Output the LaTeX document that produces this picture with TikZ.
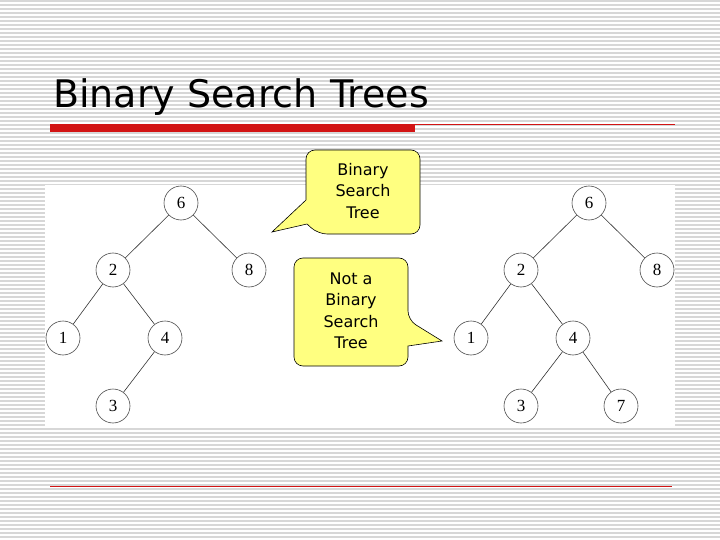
\documentclass[tikz,border=0pt]{standalone}
\usepackage{fontspec}
\setmainfont{Liberation Serif}
\newfontfamily\titlefont{DejaVu Sans}
\newfontfamily\callfont{DejaVu Sans}
\definecolor{stripe}{RGB}{215,215,215}
\definecolor{redbar}{RGB}{210,20,20}
\definecolor{callyel}{RGB}{255,255,128}
\begin{document}
\begin{tikzpicture}[x=1pt,y=-1pt,
  tn/.style={circle,draw=black!70,line width=0.6pt,fill=white,minimum size=34pt,inner sep=0pt,font=\fontsize{17}{17}\selectfont},
  ed/.style={line width=0.6pt,black!80},
  call/.style={fill=callyel,draw=black,line width=0.6pt,rounded corners=9pt},
  ctext/.style={align=center,font=\callfont\fontsize{16}{21.5}\selectfont}]
\useasboundingbox (0,0) rectangle (720,540);
\fill[white] (0,0) rectangle (720,540);
\foreach \i in {0,...,134} \draw[stripe,line width=1.2pt] (0,{\i*4+1}) -- (720,{\i*4+1});
\fill[white] (45,185) rectangle (675,428);
\node[anchor=base west,inner sep=0pt,font=\titlefont\fontsize{38}{38}\selectfont] (title) at (53,108) {Binary Search Trees};
\fill[redbar] (50,124) rectangle (415,132);
\draw[redbar,line width=0.6pt] (415,124) -- (675,124);
\draw[redbar,line width=0.6pt] (50,486) -- (672,486);
% left tree
\node[tn] (a6) at (181,203) {6};
\node[tn] (a2) at (113,270) {2};
\node[tn] (a8) at (249,270) {8};
\node[tn] (a1) at (63,338) {1};
\node[tn] (a4) at (165,338) {4};
\node[tn] (a3) at (113,406) {3};
\draw[ed] (a6)--(a2) (a6)--(a8) (a2)--(a1) (a2)--(a4) (a4)--(a3);
% right tree
\node[tn] (b6) at (589,203) {6};
\node[tn] (b2) at (521,270) {2};
\node[tn] (b8) at (657,270) {8};
\node[tn] (b1) at (471,338) {1};
\node[tn] (b4) at (573,338) {4};
\node[tn] (b3) at (521,406) {3};
\node[tn] (b7) at (621,406) {7};
\draw[ed] (b6)--(b2) (b6)--(b8) (b2)--(b1) (b2)--(b4) (b4)--(b3) (b4)--(b7);
% callouts
\draw[call] (306,150) -- (420,150) -- (420,234) -- (318,234)[sharp corners] -- (307,224) -- (272,232) -- (306,200)[rounded corners=9pt] -- cycle;
\node[ctext] (c1) at (363,191) {Binary\\Search\\Tree};
\draw[call] (294,258) -- (408,258) -- (408,320)[sharp corners] -- (442,341) -- (408,346)[rounded corners=9pt] -- (408,366) -- (294,366) -- cycle;
\node[ctext] (c2) at (351,311) {Not a\\Binary\\Search\\Tree};
\end{tikzpicture}
\end{document}
